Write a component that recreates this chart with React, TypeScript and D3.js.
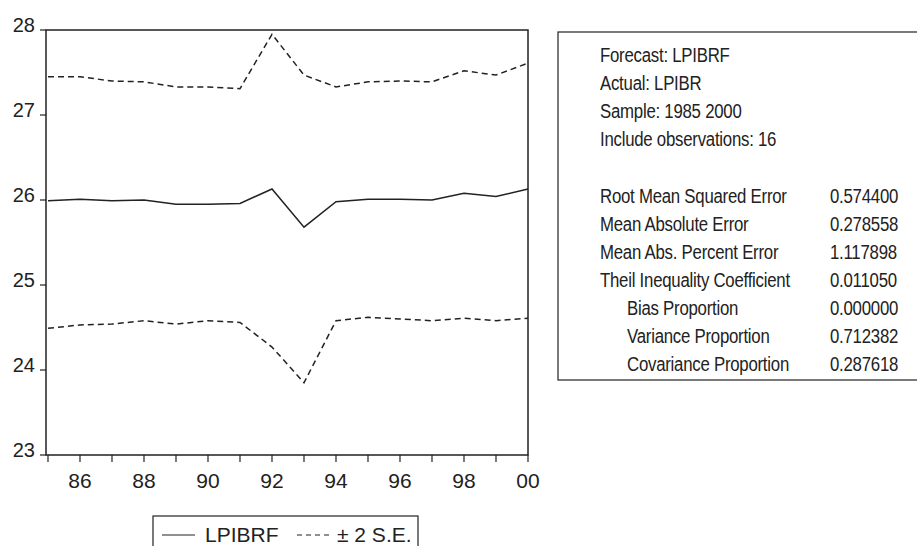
import React, { useEffect, useRef } from 'react';
import * as d3 from 'd3';

// Forecast evaluation, 1985-2000
const years = [1985, 1986, 1987, 1988, 1989, 1990, 1991, 1992, 1993, 1994, 1995, 1996, 1997, 1998, 1999, 2000];
const forecast = [25.99, 26.01, 25.99, 26.0, 25.95, 25.95, 25.96, 26.13, 25.68, 25.98, 26.01, 26.01, 26.0, 26.08, 26.04, 26.13];
const upperBand = [27.45, 27.45, 27.4, 27.39, 27.33, 27.33, 27.31, 27.95, 27.47, 27.33, 27.39, 27.4, 27.39, 27.52, 27.47, 27.61];
const lowerBand = [24.49, 24.53, 24.54, 24.58, 24.54, 24.58, 24.56, 24.27, 23.85, 24.58, 24.62, 24.6, 24.58, 24.61, 24.58, 24.61];

const yTicks = [23, 24, 25, 26, 27, 28];
const xTickLabels = ['86', '88', '90', '92', '94', '96', '98', '00'];

const statsHeader = ['Forecast: LPIBRF', 'Actual: LPIBR', 'Sample: 1985 2000', 'Include observations: 16'];
const statLabels = [
  'Root Mean Squared Error',
  'Mean Absolute Error',
  'Mean Abs. Percent Error',
  'Theil Inequality Coefficient',
  'Bias Proportion',
  'Variance Proportion',
  'Covariance Proportion',
];
const statValues = ['0.574400', '0.278558', '1.117898', '0.011050', '0.000000', '0.712382', '0.287618'];
const statIndented = [false, false, false, false, true, true, true];

const ink = '#222';
const font = '"Liberation Sans", Arial, sans-serif';

const App: React.FC = () => {
  const svgRef = useRef<SVGSVGElement>(null);

  useEffect(() => {
    if (!svgRef.current) return;
    const svg = d3.select(svgRef.current);
    svg.selectAll('*').remove();

    const left = 46, right = 528, top = 30, bottom = 455;
    const x = d3.scaleLinear().domain([1985, 2000]).range([48, right]);
    const y = d3.scaleLinear().domain([23, 28]).range([bottom, top]);

    // frame
    svg.append('rect')
      .attr('x', left).attr('y', top)
      .attr('width', right - left).attr('height', bottom - top)
      .attr('fill', 'none').attr('stroke', ink).attr('stroke-width', 1.5);

    // y ticks + labels
    const yg = svg.append('g');
    yTicks.forEach(t => {
      yg.append('line')
        .attr('x1', left - 6).attr('x2', left)
        .attr('y1', y(t)).attr('y2', y(t))
        .attr('stroke', ink).attr('stroke-width', 1.2);
      yg.append('text')
        .attr('x', 35).attr('y', y(t) + 2)
        .attr('text-anchor', 'end')
        .style('font-family', font).style('font-size', '20px')
        .attr('fill', ink)
        .text(String(t));
    });

    // x ticks every year, labels every other year
    const xg = svg.append('g');
    years.forEach(yr => {
      xg.append('line')
        .attr('x1', x(yr)).attr('x2', x(yr))
        .attr('y1', bottom).attr('y2', bottom + 7)
        .attr('stroke', ink).attr('stroke-width', 1.2);
    });
    xTickLabels.forEach((lab, i) => {
      const yr = 1986 + i * 2;
      xg.append('text')
        .attr('x', x(yr)).attr('y', 488)
        .attr('text-anchor', 'middle')
        .style('font-family', font).style('font-size', '21px')
        .attr('fill', ink)
        .text(lab);
    });

    const line = d3.line<number>()
      .x((_, i) => x(years[i]))
      .y(d => y(d));

    [upperBand, lowerBand].forEach(band => {
      svg.append('path')
        .attr('d', line(band) || '')
        .attr('fill', 'none').attr('stroke', ink)
        .attr('stroke-width', 1.5)
        .attr('stroke-dasharray', '6,4');
    });
    svg.append('path')
      .attr('d', line(forecast) || '')
      .attr('fill', 'none').attr('stroke', ink)
      .attr('stroke-width', 1.5);

    // legend
    const lg = svg.append('g');
    lg.append('rect')
      .attr('x', 153).attr('y', 516).attr('width', 265).attr('height', 60)
      .attr('fill', 'white').attr('stroke', ink).attr('stroke-width', 1.2);
    lg.append('line')
      .attr('x1', 162).attr('x2', 195).attr('y1', 535).attr('y2', 535)
      .attr('stroke', ink).attr('stroke-width', 1.2);
    lg.append('text')
      .attr('x', 205).attr('y', 542)
      .style('font-family', font).style('font-size', '21px')
      .attr('fill', ink).text('LPIBRF');
    lg.append('line')
      .attr('x1', 297).attr('x2', 331).attr('y1', 535).attr('y2', 535)
      .attr('stroke', ink).attr('stroke-width', 1.2)
      .attr('stroke-dasharray', '5,4');
    lg.append('text')
      .attr('x', 337).attr('y', 542)
      .style('font-family', font).style('font-size', '21px')
      .attr('fill', ink).text('± 2 S.E.');

    // statistics box
    const sg = svg.append('g');
    sg.append('rect')
      .attr('x', 558).attr('y', 32).attr('width', 400).attr('height', 348)
      .attr('fill', 'white').attr('stroke', ink).attr('stroke-width', 1.2);

    const step = 28.1;
    const addText = (tx: number, ty: number, s: string) => {
      sg.append('g')
        .attr('transform', `translate(${tx},${ty}) scale(0.8,1)`)
        .append('text')
        .style('font-family', font).style('font-size', '21px')
        .style('letter-spacing', '-0.3px')
        .attr('fill', ink)
        .text(s);
    };
    statsHeader.forEach((s, i) => addText(600, 62 + i * step, s));
    statLabels.forEach((s, i) => {
      const ty = 62 + (i + 5) * step;
      addText(statIndented[i] ? 627 : 600, ty, s);
      addText(830, ty, statValues[i]);
    });
  }, []);

  return (
    <svg
      ref={svgRef}
      width={917}
      height={546}
      style={{ position: 'absolute', left: 0, top: 0, background: 'white' }}
    />
  );
};

export default App;
